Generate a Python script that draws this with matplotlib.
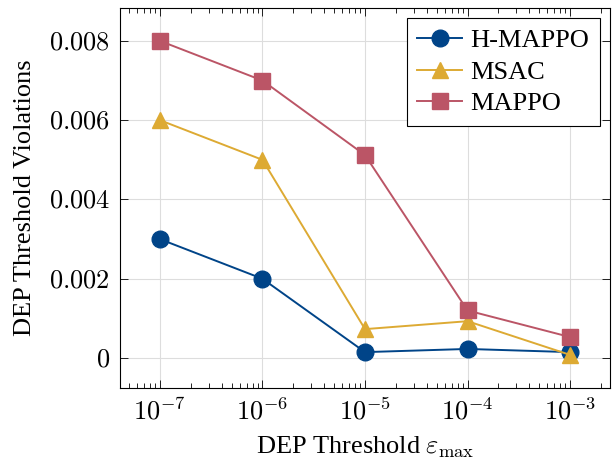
import matplotlib
matplotlib.use("Agg")
from matplotlib import pyplot as plt
from matplotlib.ticker import LogLocator, FixedLocator

thresholds = [1e-7, 1e-6, 1e-5, 1e-4, 1e-3]
h_mappo = [0.0030, 0.0020, 0.00015, 0.00023, 0.00015]
msac = [0.0060, 0.0050, 0.00073, 0.00093, 0.00008]
mappo = [0.0080, 0.0070, 0.00512, 0.00120, 0.00053]
yticks = [0, 0.002, 0.004, 0.006, 0.008]
ylabels = ["$0$", "$0.002$", "$0.004$", "$0.006$", "$0.008$"]

plt.rcParams["font.family"] = "Liberation Serif"
plt.rcParams["mathtext.fontset"] = "cm"

fig = plt.figure(figsize=(6.15, 4.62), dpi=100)
ax = fig.add_axes([0.195, 0.160, 0.797, 0.823])

ax.plot(thresholds, h_mappo, color="#004488", marker="o", markersize=12, lw=1.4, label="H-MAPPO", zorder=3)
ax.plot(thresholds, msac, color="#DDAA33", marker="^", markersize=11, lw=1.4, label="MSAC", zorder=3)
ax.plot(thresholds, mappo, color="#BB5566", marker="s", markersize=11, lw=1.4, label="MAPPO", zorder=3)

ax.set_xscale("log")
ax.set_xlim(10 ** -7.39, 10 ** -2.61)
ax.set_ylim(-0.000757, 0.008833)
ax.xaxis.set_major_locator(FixedLocator(thresholds))
ax.xaxis.set_minor_locator(LogLocator(base=10, subs=range(2, 10), numticks=20))
ax.set_xticklabels(["$10^{-7}$", "$10^{-6}$", "$10^{-5}$", "$10^{-4}$", "$10^{-3}$"])
ax.set_yticks(yticks)
ax.set_yticklabels(ylabels)
ax.tick_params(which="both", direction="in", top=True, right=True, labelsize=19, width=0.6)
ax.tick_params(which="major", length=6, pad=7)
ax.tick_params(which="minor", length=3.5)
ax.minorticks_on()
ax.yaxis.set_minor_locator(FixedLocator([]))
ax.grid(True, which="major", color="#dddddd", lw=0.8)
for s in ax.spines.values():
    s.set_linewidth(0.8)

ax.set_xlabel(r"DEP Threshold $\varepsilon_{\mathrm{max}}$", fontsize=19, labelpad=7)
ax.set_ylabel("DEP Threshold Violations", fontsize=19, labelpad=9)

leg = ax.legend(loc="upper right", fontsize=19, fancybox=False, framealpha=1,
                edgecolor="black", handlelength=1.7, handletextpad=0.3,
                borderpad=0.4, labelspacing=0.3, borderaxespad=0.4)
leg.get_frame().set_linewidth(0.8)

plt.savefig("out.png", dpi=100)
